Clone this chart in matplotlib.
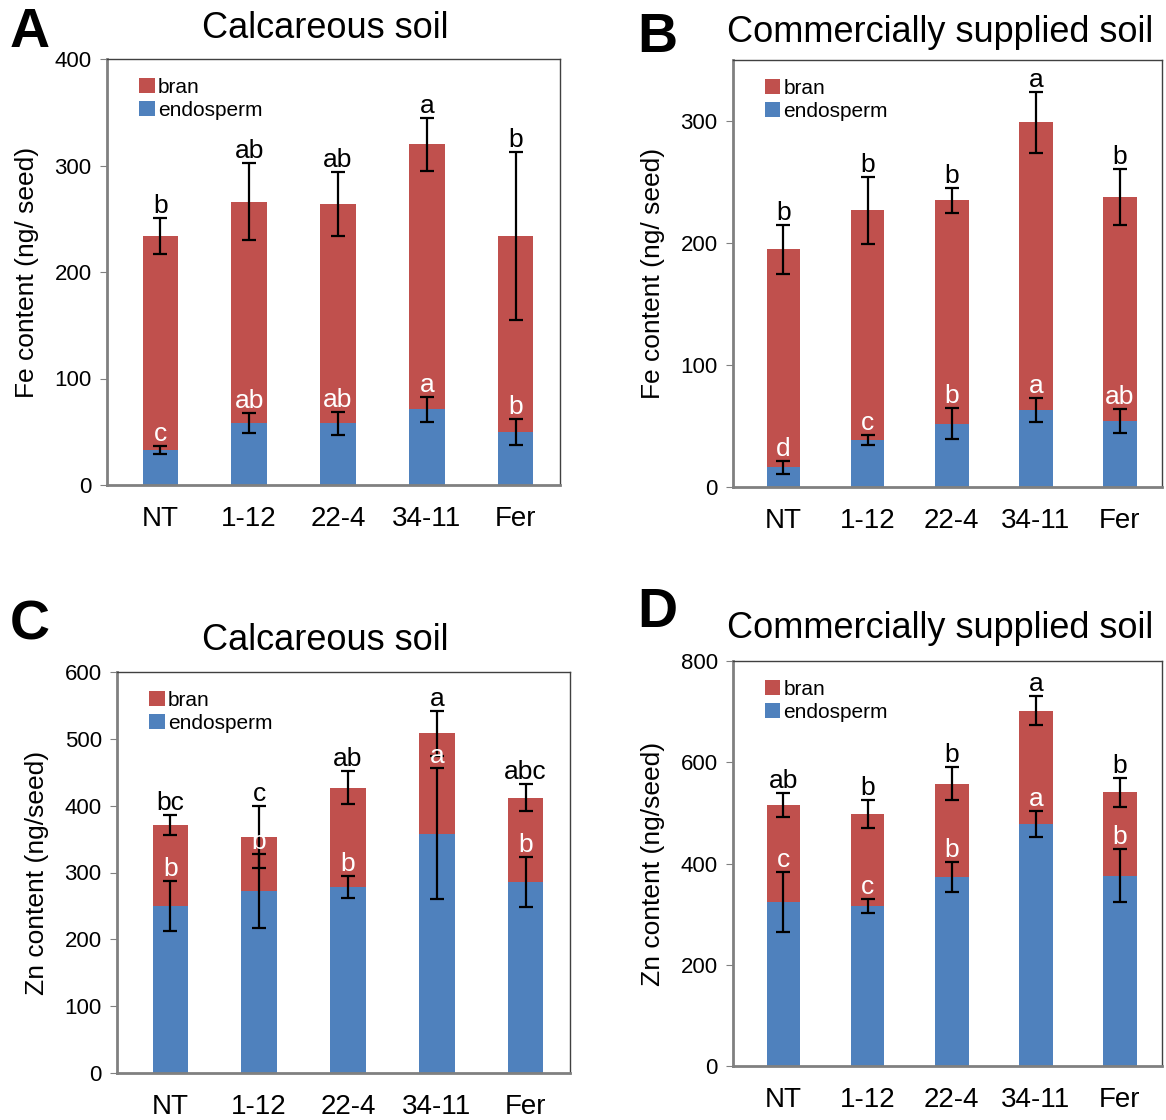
import matplotlib.pyplot as plt
import numpy as np

plt.rcParams['font.family'] = ['Liberation Sans', 'DejaVu Sans']

lines = ['NT', '1-12', '22-4', '34-11', 'Fer']

# Fe, calcareous soil (A)
fe_cal_total = [234, 266, 264, 320, 234]
fe_cal_total_err = [17, 36, 30, 25, 79]
fe_cal_endo = [33, 58, 58, 71, 50]
fe_cal_endo_err = [4, 9.5, 11, 12, 12]
fe_cal_tot_lab = ['b', 'ab', 'ab', 'a', 'b']
fe_cal_endo_lab = ['c', 'ab', 'ab', 'a', 'b']

# Fe, commercially supplied soil (B)
fe_com_total = [195, 227, 235, 299, 238]
fe_com_total_err = [20, 27.5, 10, 25, 23]
fe_com_endo = [16, 38.5, 52, 63, 54]
fe_com_endo_err = [5, 4, 13, 10, 10]
fe_com_tot_lab = ['b', 'b', 'b', 'a', 'b']
fe_com_endo_lab = ['d', 'c', 'b', 'a', 'ab']

# Zn, calcareous soil (C)
zn_cal_total = [371, 353, 427, 508, 412]
zn_cal_total_err = [15, 47, 25, 34, 20]
zn_cal_endo = [250, 272, 278, 358, 286]
zn_cal_endo_err = [37, 55, 16.5, 98, 37]
zn_cal_tot_lab = ['bc', 'c', 'ab', 'a', 'abc']
zn_cal_endo_lab = ['b', 'b', 'b', 'a', 'b']

# Zn, commercially supplied soil (D)
zn_com_total = [515, 498, 558, 702, 541]
zn_com_total_err = [24, 28, 33, 28, 28.5]
zn_com_endo = [324, 316, 373, 478, 376]
zn_com_endo_err = [60, 14, 30, 25, 52]
zn_com_tot_lab = ['ab', 'b', 'b', 'a', 'b']
zn_com_endo_lab = ['c', 'c', 'b', 'a', 'b']

BRAN = '#C0504D'
ENDO = '#4F81BD'
W, H = 1166, 1120


def rect(l, t, r, b):
    return [l / W, 1 - b / H, (r - l) / W, (b - t) / H]


def panel(ax, total, total_err, endo, endo_err, tot_lab, endo_lab,
          ymax, ystep, ylabel, title, letter, lx, ly, tx, ty):
    x = np.arange(len(lines))
    total = np.array(total, float)
    endo = np.array(endo, float)
    bran = total - endo
    b1 = ax.bar(x, endo, width=0.4, color=ENDO, label='endosperm')
    b2 = ax.bar(x, bran, width=0.4, bottom=endo, color=BRAN, label='bran')
    ax.errorbar(x, endo, yerr=endo_err, fmt='none', ecolor='black',
                elinewidth=1.6, capsize=5, capthick=1.6)
    ax.errorbar(x, total, yerr=total_err, fmt='none', ecolor='black',
                elinewidth=1.6, capsize=5, capthick=1.6)
    for i in range(len(lines)):
        ax.annotate(tot_lab[i], (x[i], total[i] + total_err[i]),
                    xytext=(0, 0), textcoords='offset points',
                    ha='center', va='bottom', fontsize=19, color='black')
        ax.annotate(endo_lab[i], (x[i], endo[i] + endo_err[i]),
                    xytext=(0, 0), textcoords='offset points',
                    ha='center', va='bottom', fontsize=19, color='white')
    ax.set_xlim(-0.6, 4.5)
    ax.set_ylim(0, ymax)
    ax.set_yticks(np.arange(0, ymax + 1, ystep))
    ax.set_xticks(x)
    ax.set_xticklabels(lines, fontsize=20)
    ax.tick_params(axis='x', length=0, pad=15)
    ax.tick_params(axis='y', labelsize=16, direction='out', length=5,
                   color='#808080', pad=6)
    for s in ['left', 'bottom']:
        ax.spines[s].set_color('#808080')
        ax.spines[s].set_linewidth(2)
    for s in ['top', 'right']:
        ax.spines[s].set_color('#404040')
        ax.spines[s].set_linewidth(1)
    ax.set_ylabel(ylabel, fontsize=19, labelpad=11)
    ax.legend(handles=[b2, b1], loc='upper left', frameon=False,
              fontsize=15, handlelength=0.75, handleheight=0.75,
              handletextpad=0.15, labelspacing=0.2,
              borderaxespad=0.5, bbox_to_anchor=(0.03, 1.0))
    fig.text(lx / W, 1 - ly / H, letter, fontsize=40, fontweight='bold',
             ha='center', va='center')
    fig.text(tx / W, 1 - ty / H, title, fontsize=26,
             ha='center', va='center')


fig = plt.figure(figsize=(W / 100, H / 100), dpi=100)

axA = fig.add_axes(rect(107, 59, 560, 485))
panel(axA, fe_cal_total, fe_cal_total_err, fe_cal_endo, fe_cal_endo_err,
      fe_cal_tot_lab, fe_cal_endo_lab, 400, 100, 'Fe content (ng/ seed)',
      'Calcareous soil', 'A', 30, 33, 325, 28)

axB = fig.add_axes(rect(733, 60, 1162, 487))
panel(axB, fe_com_total, fe_com_total_err, fe_com_endo, fe_com_endo_err,
      fe_com_tot_lab, fe_com_endo_lab, 350, 100, 'Fe content (ng/ seed)',
      'Commercially supplied soil', 'B', 657, 38, 940, 32)

axC = fig.add_axes(rect(117, 672, 570, 1073))
panel(axC, zn_cal_total, zn_cal_total_err, zn_cal_endo, zn_cal_endo_err,
      zn_cal_tot_lab, zn_cal_endo_lab, 600, 100, 'Zn content (ng/seed)',
      'Calcareous soil', 'C', 30, 625, 325, 641)

axD = fig.add_axes(rect(733, 661, 1162, 1066))
panel(axD, zn_com_total, zn_com_total_err, zn_com_endo, zn_com_endo_err,
      zn_com_tot_lab, zn_com_endo_lab, 800, 200, 'Zn content (ng/seed)',
      'Commercially supplied soil', 'D', 657, 613, 940, 629)

fig.savefig('out.png', dpi=100)
